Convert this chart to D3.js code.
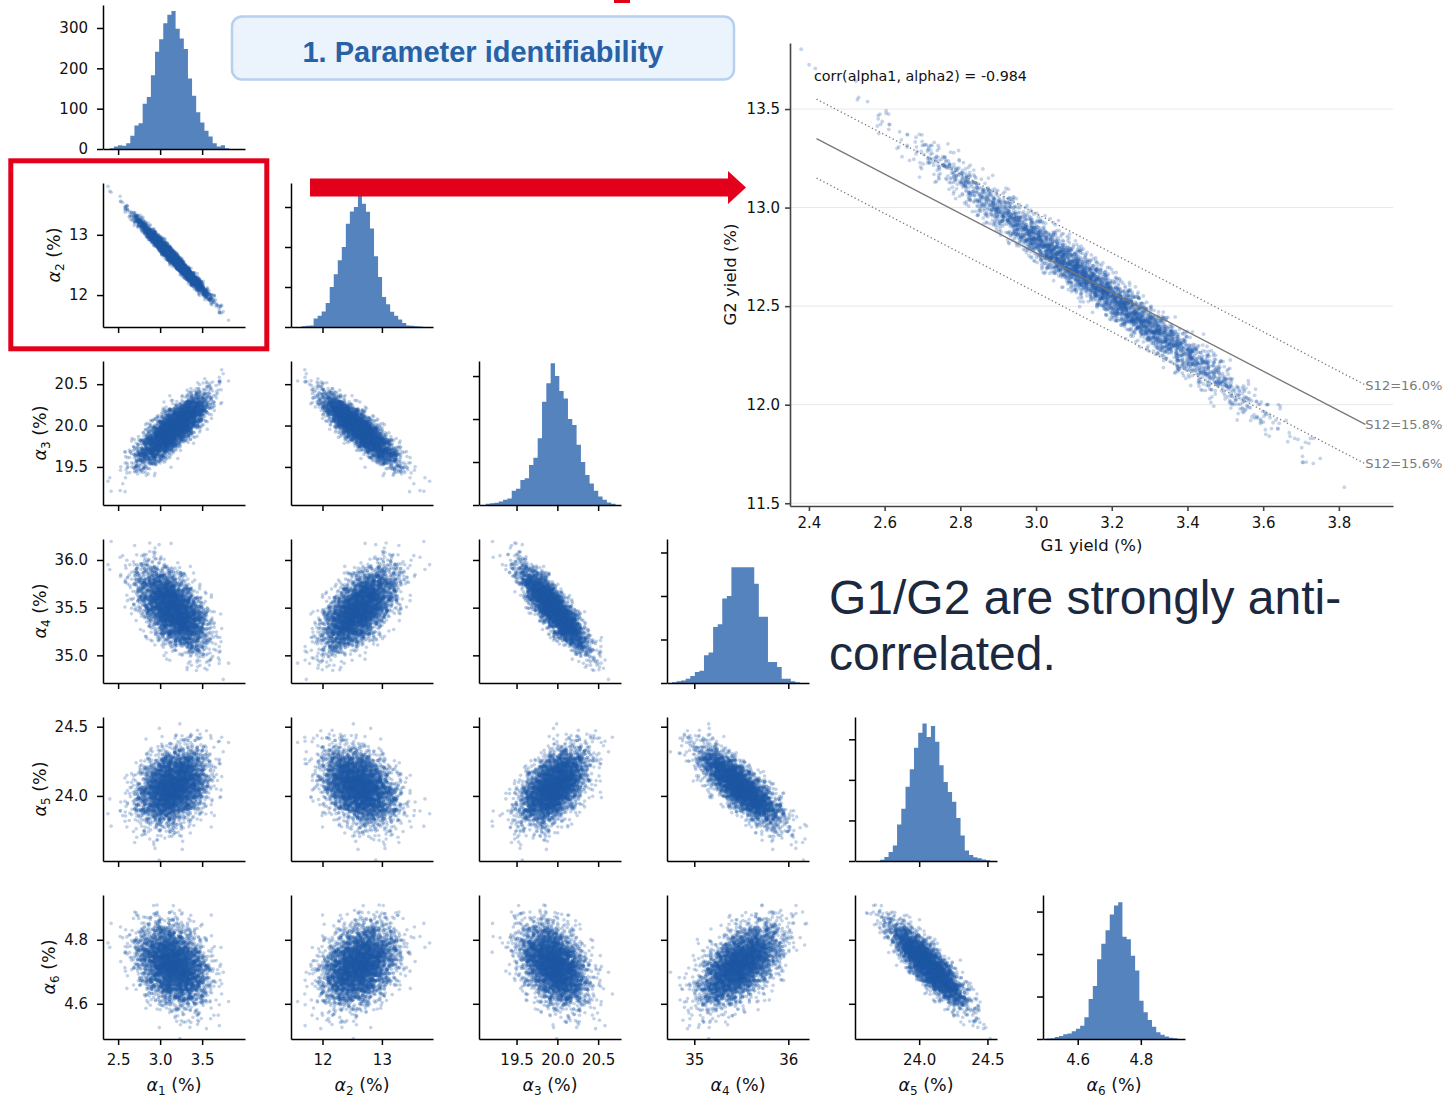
<!DOCTYPE html>
<html>
<head>
<meta charset="utf-8">
<script src="https://cdn.jsdelivr.net/npm/d3@7"></script>
<style>
  body { margin: 0; background: #fff; }
  svg { display: block; }
</style>
</head>
<body>
<svg id="chart" width="1446" height="1097"></svg>
<script>
// ---- values ----
const paramIndex = ["1", "2", "3", "4", "5", "6"];           // alpha subscripts
const paramMeans = [3.15, 12.62, 19.96, 35.48, 24.07, 4.72];  // cloud centres
const paramSds   = [0.20, 0.30, 0.20, 0.21, 0.13, 0.06];      // cloud spreads
// pairwise correlations, estimated from the shape of each scatter cloud
const paramCorr = [
  [ 1.000, -0.984,  0.80, -0.55,  0.30, -0.30],
  [-0.984,  1.000, -0.86,  0.60, -0.35,  0.32],
  [ 0.80,  -0.86,   1.00, -0.86,  0.52, -0.38],
  [-0.55,   0.60,  -0.86,  1.00, -0.80,  0.55],
  [ 0.30,  -0.35,   0.52, -0.80,  1.00, -0.86],
  [-0.30,   0.32,  -0.38,  0.55, -0.86,  1.00]
];
const nSamples = 4000;

// axis limits of each parameter in the corner plot
const axisDomains = [[2.32, 4.01], [11.47, 13.86], [19.04, 20.78], [34.71, 36.22], [23.53, 24.57], [4.49, 4.94]];
const xTickValues = [[2.5, 3.0, 3.5], [12, 13], [19.5, 20.0, 20.5], [35, 36], [24.0, 24.5], [4.6, 4.8]];
const xTickLabels = [["2.5", "3.0", "3.5"], ["12", "13"], ["19.5", "20.0", "20.5"], ["35", "36"], ["24.0", "24.5"], ["4.6", "4.8"]];
const yTickValues = [[0, 100, 200, 300], [12, 13], [19.5, 20.0, 20.5], [35.0, 35.5, 36.0], [24.0, 24.5], [4.6, 4.8]];
const yTickLabels = [["0", "100", "200", "300"], ["12", "13"], ["19.5", "20.0", "20.5"], ["35.0", "35.5", "36.0"], ["24.0", "24.5"], ["4.6", "4.8"]];
const countTicks = [0, 100, 200, 300];

// diagonal histograms: first bin edge, bin width, counts
const histStarts = [2.40, 11.647, 19.123, 34.763, 23.714, 4.5005];
const histWidths = [0.049, 0.0678, 0.053, 0.0486, 0.031, 0.0134];
const histYMax   = [357, 360, 335, 331, 355, 339];
const countsA1 = [2, 6, 9, 8, 14, 33, 58, 64, 112, 129, 183, 241, 272, 312, 333, 342, 298, 274, 248, 175, 132, 91, 66, 45, 31, 14, 6, 9, 2];
const countsA2 = [2, 3, 4, 21, 28, 39, 60, 100, 132, 167, 200, 258, 289, 300, 330, 308, 288, 246, 177, 125, 75, 57, 38, 28, 19, 10, 4, 3, 2, 1];
const countsA3 = [3, 4, 5, 8, 12, 15, 33, 38, 58, 62, 93, 110, 155, 240, 283, 330, 300, 265, 248, 200, 186, 140, 100, 70, 50, 33, 20, 12, 6, 3];
const countsA4 = [2, 4, 6, 10, 16, 25, 28, 64, 70, 129, 135, 194, 200, 266, 266, 266, 266, 266, 228, 152, 152, 48, 48, 37, 10, 10, 4, 2];
const countsA5 = [3, 10, 22, 38, 90, 129, 183, 226, 279, 316, 339, 306, 333, 294, 236, 195, 170, 146, 106, 63, 26, 15, 9, 7, 4, 2];
const countsA6 = [1, 2, 5, 7, 11, 13, 18, 24, 31, 51, 94, 125, 188, 224, 256, 293, 314, 322, 241, 235, 196, 161, 90, 63, 45, 29, 16, 10, 6, 3, 2];
const histCounts = [countsA1, countsA2, countsA3, countsA4, countsA5, countsA6];

// zoomed G1/G2 panel
const bigXDomain = [2.35, 3.943];
const bigYDomain = [11.486, 13.835];
const bigXTicks = [2.4, 2.6, 2.8, 3.0, 3.2, 3.4, 3.6, 3.8];
const bigYTicks = [11.5, 12.0, 12.5, 13.0, 13.5];
const s12Values = [15.97, 15.77, 15.57];
const s12Dotted = [true, false, true];
const s12Span = [2.42, 3.87];
const corrText = "corr(alpha1, alpha2) = -0.984";

// ---- layout ----
const svg = d3.select("#chart");
const gridLeft = 103, gridTop = 5, colPitch = 188, rowPitch = 178, panelW = 142, panelH = 144;
const pointColor = "#1f58a5", histColor = "#5583bd";
const tickFont = "DejaVu Sans, sans-serif";

// symmetric eigen decomposition (Jacobi) so the cloud covariance stays valid
function eigenSym(A) {
  const n = A.length;
  const a = A.map(r => r.slice());
  const v = A.map((r, i) => r.map((_, j) => (i === j ? 1 : 0)));
  for (let sweep = 0; sweep < 100; sweep++) {
    let off = 0;
    for (let p = 0; p < n; p++) for (let q = p + 1; q < n; q++) off += a[p][q] * a[p][q];
    if (off < 1e-22) break;
    for (let p = 0; p < n; p++) {
      for (let q = p + 1; q < n; q++) {
        if (Math.abs(a[p][q]) < 1e-16) continue;
        const theta = (a[q][q] - a[p][p]) / (2 * a[p][q]);
        const t = (theta >= 0 ? 1 : -1) / (Math.abs(theta) + Math.sqrt(theta * theta + 1));
        const c = 1 / Math.sqrt(t * t + 1), s = t * c;
        for (let k = 0; k < n; k++) {
          const akp = a[k][p], akq = a[k][q];
          a[k][p] = c * akp - s * akq; a[k][q] = s * akp + c * akq;
        }
        for (let k = 0; k < n; k++) {
          const apk = a[p][k], aqk = a[q][k];
          a[p][k] = c * apk - s * aqk; a[q][k] = s * apk + c * aqk;
        }
        for (let k = 0; k < n; k++) {
          const vkp = v[k][p], vkq = v[k][q];
          v[k][p] = c * vkp - s * vkq; v[k][q] = s * vkp + c * vkq;
        }
      }
    }
  }
  return { values: a.map((r, i) => r[i]), vectors: v };
}

// the posterior cloud can't be read point by point, so it is drawn from the
// centres / spreads / correlations read above with a fixed seed
const samples = (function () {
  const cov = paramCorr.map((row, i) => row.map((r, j) => r * paramSds[i] * paramSds[j]));
  const eig = eigenSym(cov);
  const root = eig.values.map(l => Math.sqrt(Math.max(l, 0)));
  const normal = d3.randomNormal.source(d3.randomLcg(0.4217))(0, 1);
  return d3.range(nSamples).map(() => {
    const z = root.map(r => r * normal());
    return paramMeans.map((m, i) => m + d3.sum(z, (zk, k) => eig.vectors[i][k] * zk));
  });
})();

function styleAxis(g, color, width, size) {
  g.attr("font-family", tickFont).attr("font-size", size);
  g.select(".domain").attr("stroke", color).attr("stroke-width", width);
  g.selectAll(".tick line").attr("stroke", color).attr("stroke-width", width);
  g.selectAll(".tick text").attr("fill", "#111");
}

function alphaLabel(text, idx) {
  text.append("tspan").attr("font-style", "italic").text("α");
  text.append("tspan").attr("font-size", 12).attr("dy", 4).text(idx);
  text.append("tspan").attr("dy", -4).text(" (%)");
}

// ---- corner plot ----
const nParams = paramIndex.length;
paramIndex.forEach((_, i) => {
  d3.range(i + 1).forEach(j => {
    const x0 = gridLeft + j * colPitch, y0 = gridTop + i * rowPitch;
    const x = d3.scaleLinear().domain(axisDomains[j]).range([x0, x0 + panelW]);
    const g = svg.append("g");
    let y;
    if (i === j) {
      y = d3.scaleLinear().domain([0, histYMax[i]]).range([y0 + panelH, y0]);
      // one outline per histogram so neighbouring bars leave no seams
      const edge = k => x(histStarts[i] + k * histWidths[i]);
      const p = d3.path();
      p.moveTo(edge(0), y(0));
      histCounts[i].forEach((c, k) => { p.lineTo(edge(k), y(c)); p.lineTo(edge(k + 1), y(c)); });
      p.lineTo(edge(histCounts[i].length), y(0));
      p.closePath();
      g.append("path").attr("d", p.toString()).attr("fill", histColor);
    } else {
      y = d3.scaleLinear().domain(axisDomains[i]).range([y0 + panelH, y0]);
      const pts = samples.filter(s => s[j] > axisDomains[j][0] && s[j] < axisDomains[j][1]
        && s[i] > axisDomains[i][0] && s[i] < axisDomains[i][1]);
      g.selectAll("circle").data(pts).join("circle")
        .attr("cx", s => x(s[j]))
        .attr("cy", s => y(s[i]))
        .attr("r", 1.8)
        .attr("fill", pointColor)
        .attr("fill-opacity", 0.28);
    }

    const xAxis = d3.axisBottom(x).tickValues(xTickValues[j])
      .tickFormat((d, k) => (i === nParams - 1 ? xTickLabels[j][k] : ""))
      .tickSize(6).tickSizeOuter(0).tickPadding(9);
    const gx = svg.append("g").attr("transform", `translate(0,${y0 + panelH})`).call(xAxis);
    styleAxis(gx, "#000", 1.5, 15);

    const yVals = i === j ? countTicks : yTickValues[i];
    const yAxis = d3.axisLeft(y).tickValues(yVals)
      .tickFormat((d, k) => (j === 0 ? yTickLabels[i][k] : ""))
      .tickSize(6).tickSizeOuter(0).tickPadding(9);
    const gy = svg.append("g").attr("transform", `translate(${x0},0)`).call(yAxis);
    styleAxis(gy, "#000", 1.5, 15);

    if (j === 0 && i > 0) {
      const box = gy.node().getBBox();
      const t = svg.append("text")
        .attr("transform", `translate(${x0 + box.x - 9},${y0 + panelH / 2}) rotate(-90)`)
        .attr("text-anchor", "middle")
        .attr("font-family", tickFont).attr("font-size", 17.5).attr("fill", "#111");
      alphaLabel(t, paramIndex[i]);
    }
    if (i === nParams - 1) {
      const t = svg.append("text")
        .attr("x", x0 + panelW / 2).attr("y", 1091)
        .attr("text-anchor", "middle")
        .attr("font-family", tickFont).attr("font-size", 17.5).attr("fill", "#111");
      alphaLabel(t, paramIndex[j]);
    }
  });
});

// ---- zoomed alpha1 / alpha2 panel ----
const bx = d3.scaleLinear().domain(bigXDomain).range([790, 1393]);
const by = d3.scaleLinear().domain(bigYDomain).range([506, 43]);
const big = svg.append("g");

big.selectAll("line.grid").data(bigYTicks).join("line")
  .attr("class", "grid")
  .attr("x1", bx.range()[0]).attr("x2", bx.range()[1])
  .attr("y1", d => by(d)).attr("y2", d => by(d))
  .attr("stroke", "#e8e8e8").attr("stroke-width", 1);

big.selectAll("circle").data(samples).join("circle")
  .attr("cx", s => bx(s[0]))
  .attr("cy", s => by(s[1]))
  .attr("r", 1.9)
  .attr("fill", "#2a61ad")
  .attr("fill-opacity", 0.27);

big.selectAll("line.s12").data(s12Values).join("line")
  .attr("class", "s12")
  .attr("x1", bx(s12Span[0])).attr("x2", bx(s12Span[1]))
  .attr("y1", d => by(d - s12Span[0])).attr("y2", d => by(d - s12Span[1]))
  .attr("stroke", "#777").attr("stroke-width", 1.3)
  .attr("stroke-dasharray", (d, k) => (s12Dotted[k] ? "1.3,2.6" : null));

big.selectAll("text.s12").data(s12Values).join("text")
  .attr("class", "s12")
  .attr("x", bx(s12Span[1])).attr("y", d => by(d - s12Span[1]))
  .attr("dy", "0.35em")
  .attr("font-family", tickFont).attr("font-size", 13).attr("fill", "#7a7a7a")
  .text(d => `S12=${d.toFixed(1)}%`);

const bgx = svg.append("g").attr("transform", "translate(0,506)")
  .call(d3.axisBottom(bx).tickValues(bigXTicks).tickFormat(d3.format(".1f")).tickSize(5).tickSizeOuter(0).tickPadding(6));
styleAxis(bgx, "#444", 1.6, 15);
const bgy = svg.append("g").attr("transform", "translate(790,0)")
  .call(d3.axisLeft(by).tickValues(bigYTicks).tickFormat(d3.format(".1f")).tickSize(5).tickSizeOuter(0).tickPadding(5));
styleAxis(bgy, "#444", 1.6, 15);

svg.append("text").attr("x", 814).attr("y", 81)
  .attr("font-family", tickFont).attr("font-size", 14.3).attr("fill", "#111")
  .text(corrText);
svg.append("text").attr("x", 1091.5).attr("y", 551).attr("text-anchor", "middle")
  .attr("font-family", tickFont).attr("font-size", 16.5).attr("fill", "#111")
  .text("G1 yield (%)");
svg.append("text").attr("transform", "translate(736,274.5) rotate(-90)").attr("text-anchor", "middle")
  .attr("font-family", tickFont).attr("font-size", 16.5).attr("fill", "#111")
  .text("G2 yield (%)");

// ---- annotations ----
svg.append("rect").attr("x", 232).attr("y", 16.5).attr("width", 502).attr("height", 63).attr("rx", 10)
  .attr("fill", "#ebf3fc").attr("stroke", "#b7d0ee").attr("stroke-width", 2.5);
svg.append("text").attr("x", 483).attr("y", 62).attr("text-anchor", "middle")
  .attr("font-family", "Liberation Sans, Arial, sans-serif").attr("font-weight", "bold")
  .attr("font-size", 29).attr("fill", "#2762a7")
  .text("1. Parameter identifiability");

svg.append("rect").attr("x", 614).attr("y", 0).attr("width", 16).attr("height", 3).attr("fill", "#e2001a");

svg.append("rect").attr("x", 10.8).attr("y", 160.8).attr("width", 256).attr("height", 188)
  .attr("fill", "none").attr("stroke", "#e2001a").attr("stroke-width", 5);
svg.append("path")
  .attr("d", "M310,178.5H728V171L746,187.5L728,204V196.5H310Z")
  .attr("fill", "#e2001a");

const note = svg.append("text")
  .attr("font-family", "Liberation Sans, Arial, sans-serif").attr("font-size", 48).attr("fill", "#1a2940");
note.append("tspan").attr("x", 829).attr("y", 614).text("G1/G2 are strongly anti-");
note.append("tspan").attr("x", 829).attr("y", 670).text("correlated.");
</script>
</body>
</html>
